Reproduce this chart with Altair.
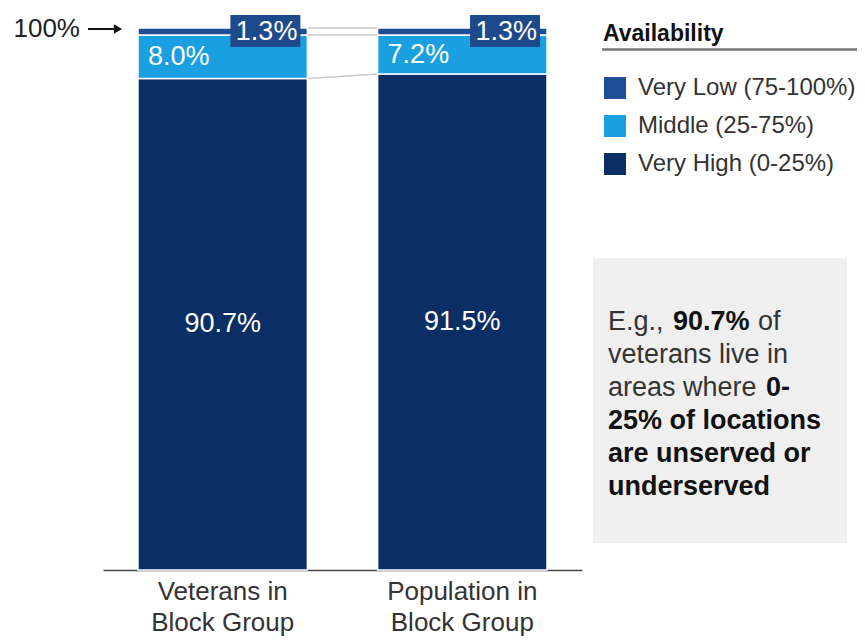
import altair as alt
import pandas as pd

categories = ["Veterans in Block Group", "Population in Block Group"]
levels = ["Very Low (75-100%)", "Middle (25-75%)", "Very High (0-25%)"]
very_high = [90.7, 91.5]
middle = [8.0, 7.2]
very_low = [1.3, 1.3]
level_colors = ["#1E4F94", "#1A9FE0", "#0B2F64"]

FONT = "Liberation Sans"

# stacked segments (bottom to top)
rows = []
for i, cat in enumerate(categories):
    start = 0.0
    for lvl, vals in [(levels[2], very_high), (levels[1], middle), (levels[0], very_low)]:
        v = vals[i]
        rows.append({"category": cat, "level": lvl, "start": start, "end": start + v,
                     "mid": start + v / 2, "label": f"{v:.1f}%"})
        start += v
seg = pd.DataFrame(rows)

# connector lines between the two bars at each boundary
conn_rows = []
cum_l = [very_high[0], very_high[0] + middle[0], very_high[0] + middle[0] + very_low[0]]
cum_r = [very_high[1], very_high[1] + middle[1], very_high[1] + middle[1] + very_low[1]]
for a, b in zip(cum_l, cum_r):
    conn_rows.append({"from": categories[0], "to": categories[1], "yl": a, "yr": b})
conn = pd.DataFrame(conn_rows)

xscale = alt.Scale(domain=categories, paddingInner=0.293, paddingOuter=0.146)
yscale = alt.Scale(domain=[0, 100], nice=False)
xaxis = alt.Axis(title=None, ticks=False, domainColor="#444", domainWidth=1.5,
                 labelFontSize=26, labelColor="#333", labelFont=FONT, labelAngle=0,
                 labelPadding=8, labelLineHeight=31, labelLimit=300,
                 labelExpr="split(replace(datum.label, ' in ', ' in|'), '|')", grid=False)


def X(field, bp=None):
    kw = {}
    if bp is not None:
        kw["bandPosition"] = bp
    return alt.X(field, type="nominal", scale=xscale, axis=xaxis, title=None, **kw)


def Y(field):
    return alt.Y(field, type="quantitative", scale=yscale, axis=None)


base = alt.Chart(seg)

bars = base.mark_bar(stroke="white", strokeWidth=1.5).encode(
    x=X("category"),
    y=Y("start"),
    y2="end:Q",
    color=alt.Color("level:N", scale=alt.Scale(domain=levels, range=level_colors),
                    legend=alt.Legend(orient="none", legendX=500, legendY=-5,
                                      title="Availability", titleFontSize=23,
                                      titleFontWeight="bold", titleColor="#111",
                                      titleFont=FONT, labelFont=FONT,
                                      labelFontSize=24, labelColor="#333",
                                      symbolType="square", symbolSize=484,
                                      symbolStrokeWidth=0, rowPadding=14,
                                      titlePadding=30, labelOffset=11, padding=0,
                                      symbolOpacity=1, labelLimit=400)),
)

connectors = alt.Chart(conn).mark_rule(color="#c8c8c8", strokeWidth=1.5).encode(
    x=X("from", 1),
    x2=alt.X2("to:N", bandPosition=0),
    y=Y("yl"),
    y2="yr:Q",
)

high_lbl = base.transform_filter(alt.datum.level == levels[2]).mark_text(
    color="white", fontSize=27, font=FONT, baseline="middle", align="center"
).encode(x=X("category", 0.5), y=Y("mid"), text="label:N")

mid_lbl = base.transform_filter(alt.datum.level == levels[1]).mark_text(
    color="white", fontSize=27, font=FONT, baseline="middle", align="left", dx=10
).encode(x=X("category", 0), y=Y("mid"), text="label:N")

low_box = base.transform_filter(alt.datum.level == levels[0]).mark_rect(
    color="#1E4A8C", xOffset=-77, x2Offset=-7, yOffset=-13, y2Offset=19
).encode(x=X("category", 1), x2=alt.X2("category:N", bandPosition=1),
         y=Y("end"), y2="end:Q")

low_lbl = base.transform_filter(alt.datum.level == levels[0]).mark_text(
    color="white", fontSize=27, font=FONT, baseline="middle", align="right", dx=-10
).encode(x=X("category", 1), y=Y("mid"), text="label:N")

top_only = base.transform_filter(
    (alt.datum.level == levels[0]) & (alt.datum.category == categories[0])
)
top_lbl = top_only.mark_text(
    color="#222", fontSize=26, font=FONT, baseline="middle", align="right", dx=-58, dy=1
).encode(x=X("category", 0), y=Y("end"), text=alt.value("100%"))

arrow_shaft = top_only.mark_rule(
    color="#111", strokeWidth=2, xOffset=-50, x2Offset=-22, yOffset=1, y2Offset=1
).encode(x=X("category", 0), x2=alt.X2("category:N", bandPosition=0),
         y=Y("end"), y2="end:Q")

arrow_head = top_only.mark_point(
    shape="triangle-right", filled=True, color="#111", opacity=1, size=90,
    xOffset=-20, yOffset=1
).encode(x=X("category", 0), y=Y("end"))

one = pd.DataFrame({"k": [0]})

underline = alt.Chart(one).mark_rule(color="#777", strokeWidth=2.5).encode(
    x=alt.value(499), x2=alt.value(800), y=alt.value(21.5))

note_bg = alt.Chart(one).mark_rect(color="#efefef").encode(
    x=alt.value(490), x2=alt.value(744), y=alt.value(230), y2=alt.value(515))

note_runs = [
    ("E.g.,", 505, 302, False),
    ("90.7%", 570, 302, True),
    ("of", 655, 302, False),
    ("veterans live in", 505, 335, False),
    ("areas where", 505, 368, False),
    ("0-", 663, 368, True),
    ("25% of locations", 505, 401, True),
    ("are unserved or", 505, 434, True),
    ("underserved", 505, 467, True),
]
note_layers = []
for txt, nx, ny, bold in note_runs:
    note_layers.append(
        alt.Chart(one).mark_text(
            align="left", baseline="alphabetic", fontSize=27, font=FONT,
            fontWeight="bold" if bold else "normal",
            color="#111" if bold else "#333",
        ).encode(x=alt.value(nx), y=alt.value(ny), text=alt.value(txt))
    )

chart = alt.layer(
    note_bg, connectors, bars, high_lbl, mid_lbl, low_box, low_lbl,
    top_lbl, arrow_shaft, arrow_head, underline, *note_layers
).properties(
    width=479, height=542,
    padding={"left": 95, "top": 20, "right": 275, "bottom": 66},
    autosize=alt.AutoSizeParams(type="none"),
).configure(font=FONT).configure_view(stroke=None)

chart.save("out.html", embed_options={"renderer": "svg", "actions": False})
